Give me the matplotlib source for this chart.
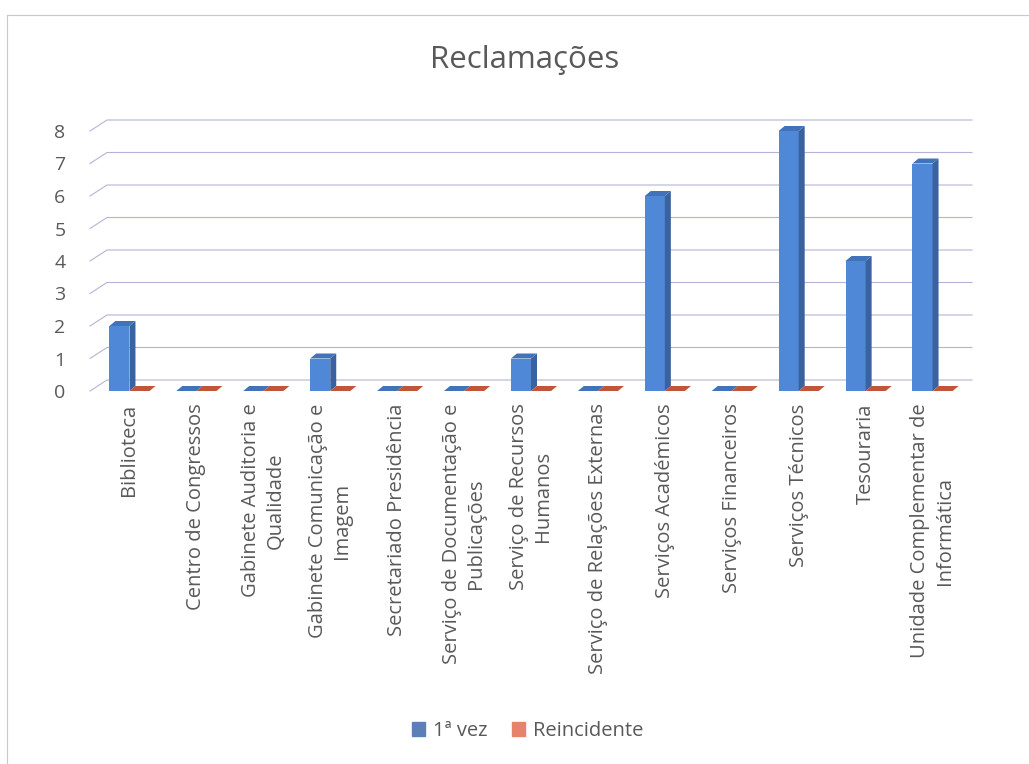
import matplotlib.pyplot as plt
import numpy as np
from matplotlib.patches import Polygon, Patch
from matplotlib.lines import Line2D
from matplotlib.transforms import IdentityTransform

plt.rcParams['font.family'] = ['Open Sans', 'DejaVu Sans']

servicos = [
    "Biblioteca",
    "Centro de Congressos",
    "Gabinete Auditoria e\nQualidade",
    "Gabinete Comunicação e\nImagem",
    "Secretariado Presidência",
    "Serviço de Documentação e\nPublicações",
    "Serviço de Recursos\nHumanos",
    "Serviço de Relações Externas",
    "Serviços Académicos",
    "Serviços Financeiros",
    "Serviços Técnicos",
    "Tesouraria",
    "Unidade Complementar de\nInformática",
]
primeira_vez = [2, 0, 0, 1, 0, 0, 1, 0, 6, 0, 8, 4, 7]
reincidente = [0, 0, 0, 0, 0, 0, 0, 0, 0, 0, 0, 0, 0]
escala = [0, 1, 2, 3, 4, 5, 6, 7, 8]

cinza = '#595959'
azul = ('#4f88d6', '#3a62a0', '#4272b8')      # frente, lado, topo
laranja = ('#d9663f', '#a84a2c', '#c0553a')

W, H = 1029, 764
fig = plt.figure(figsize=(W / 100, H / 100), dpi=100)
ax = fig.add_axes([96 / W, 373 / H, 870 / W, 260 / H])

x = np.arange(len(servicos))
largura = 0.3
ax.set_xlim(-0.5, len(servicos) - 0.5)
ax.set_ylim(0, 8)

b1 = ax.bar(x - largura / 2, primeira_vez, largura, color=azul[0], zorder=3)
b2 = ax.bar(x + largura / 2, reincidente, largura, color=laranja[0], zorder=3)

# profundidade em pixeis (efeito 3D)
dx, dy = 6, 5
gdx, gdy = 17, 11


def faces(barras, cores):
    for b in barras:
        x0 = b.get_x()
        x1 = x0 + b.get_width()
        h = b.get_height()
        (px0, py0), (px1, ph) = ax.transData.transform([(x0, 0), (x1, h)])
        lado = [(px1, py0), (px1 + dx, py0 + dy), (px1 + dx, ph + dy), (px1, ph)]
        topo = [(px0, ph), (px0 + dx, ph + dy), (px1 + dx, ph + dy), (px1, ph)]
        ax.add_patch(Polygon(lado, closed=True, facecolor=cores[1], edgecolor='none',
                             transform=IdentityTransform(), clip_on=False, zorder=3))
        ax.add_patch(Polygon(topo, closed=True, facecolor=cores[2], edgecolor='none',
                             transform=IdentityTransform(), clip_on=False, zorder=3))


# linhas de grelha na parede do fundo
x_esq, x_dir = ax.get_xlim()
for v in escala:
    fx, fy = ax.transData.transform((x_esq, v))
    rx, _ = ax.transData.transform((x_dir, v))
    ax.add_line(Line2D([fx - 6, fx + gdx - 6, rx + 6], [fy, fy + gdy, fy + gdy],
                       color='#b4b4d6', linewidth=0.8, transform=IdentityTransform(),
                       clip_on=False, zorder=1))

faces(b1, azul)
faces(b2, laranja)

for s in ax.spines.values():
    s.set_visible(False)

ax.set_yticks(escala)
ax.set_yticklabels([str(v) for v in escala], fontsize=14, color=cinza)
ax.tick_params(axis='y', length=0, pad=22)

ax.set_xticks(x)
ax.set_xticklabels(servicos, rotation=90, fontsize=14.5, color=cinza,
                   va='top', ha='center', multialignment='center', linespacing=1.3)
ax.tick_params(axis='x', length=0, pad=9)

fig.text(0.51, 1 - 60 / H, "Reclamações", ha='center', va='center',
         fontsize=22.5, color=cinza)

leg = fig.legend(handles=[Patch(color='#5b80b8', label='1ª vez'),
                          Patch(color='#e8836b', label='Reincidente')],
                 loc='center', bbox_to_anchor=(0.513, 1 - 731 / H), ncol=2,
                 frameon=False, fontsize=14.5, handlelength=0.65, handleheight=0.65,
                 handletextpad=0.4, columnspacing=1.2, labelcolor=cinza)

# moldura do gráfico
fig.add_artist(Line2D([7 / W, 1], [1 - 15 / H, 1 - 15 / H], color='#c8c8c8', lw=0.8))
fig.add_artist(Line2D([7 / W, 7 / W], [0, 1 - 15 / H], color='#c8c8c8', lw=0.8))

fig.savefig('out.png', dpi=100)
